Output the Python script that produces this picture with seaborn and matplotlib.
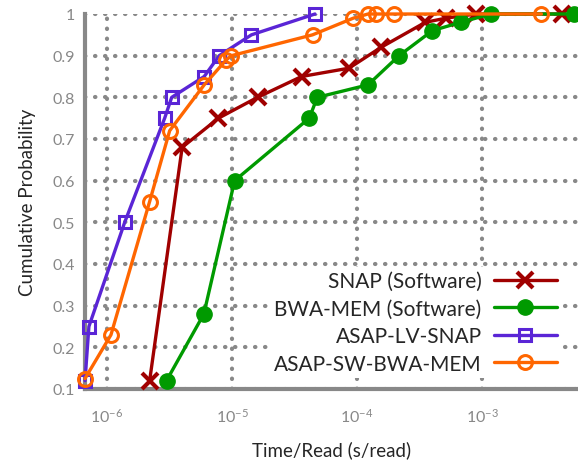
import numpy as np
import pandas as pd
import matplotlib
matplotlib.use("Agg")
import matplotlib.pyplot as plt
import seaborn as sns

# time per read (s/read) and cumulative probability
snap_t = [2.2e-6, 4.0e-6, 7.8e-6, 1.6e-5, 3.6e-5, 8.6e-5, 1.55e-4, 3.5e-4, 5.1e-4, 8.9e-4, 4.3e-3]
snap_p = [0.12, 0.68, 0.75, 0.80, 0.85, 0.87, 0.92, 0.98, 0.99, 1.0, 1.0]

bwa_t = [3.0e-6, 5.96e-6, 1.05e-5, 4.14e-5, 4.8e-5, 1.22e-4, 2.16e-4, 3.98e-4, 6.7e-4, 1.17e-3, 5.35e-3]
bwa_p = [0.12, 0.28, 0.60, 0.75, 0.80, 0.83, 0.90, 0.96, 0.98, 1.0, 1.0]

lv_t = [6.7e-7, 7.2e-7, 1.39e-6, 2.9e-6, 3.3e-6, 6.0e-6, 7.9e-6, 1.43e-5, 4.6e-5]
lv_p = [0.12, 0.25, 0.50, 0.75, 0.80, 0.85, 0.90, 0.95, 1.0]

sw_t = [6.7e-7, 1.08e-6, 2.2e-6, 3.18e-6, 6.0e-6, 9.0e-6, 9.9e-6, 4.4e-5, 9.3e-5, 1.22e-4, 1.41e-4, 1.97e-4, 2.96e-3]
sw_p = [0.125, 0.23, 0.55, 0.72, 0.83, 0.89, 0.90, 0.95, 0.99, 1.0, 1.0, 1.0, 1.0]

labels = ["SNAP (Software)", "BWA-MEM (Software)", "ASAP-LV-SNAP", "ASAP-SW-BWA-MEM"]
colors = ["#a00000", "#009a00", "#5a25d6", "#ff6600"]

sns.set_style("white")
plt.rcParams['font.family'] = ['Lato', 'DejaVu Sans']

fig = plt.figure(figsize=(5.78, 4.64), dpi=100)
ax = fig.add_axes([85/578, 74/464, 493/578, 375/464])

series = [(snap_t, snap_p), (bwa_t, bwa_p), (lv_t, lv_p), (sw_t, sw_p)]
styles = [
    dict(marker="x", markersize=11, mew=3, mec=colors[0]),
    dict(marker="o", markersize=11, mew=1, mec=colors[1], markerfacecolor=colors[1]),
    dict(marker="s", markersize=9, mew=2.2, mec=colors[2], markerfacecolor="none"),
    dict(marker="o", markersize=10, mew=2.2, mec=colors[3], markerfacecolor="none"),
]

for (t, p), lab, col, st in zip(series, labels, colors, styles):
    df = pd.DataFrame({"t": t, "p": p})
    sns.lineplot(data=df, x="t", y="p", ax=ax, color=col, label=lab, lw=2.4,
                 sort=False, estimator=None, clip_on=False, zorder=3, **st)

ax.set_xscale("log")
ax.set_xlim(6.7e-7, 5.8e-3)
ax.set_ylim(0.1, 1.0)
ax.set_yticks(np.arange(0.1, 1.01, 0.1))
ax.set_yticklabels(["0.1", "0.2", "0.3", "0.4", "0.5", "0.6", "0.7", "0.8", "0.9", "1"])

grey = "#888888"
ax.grid(True, which="major", color=grey, linestyle=(0, (0.1, 2.3)), lw=3,
        dash_capstyle="round")
ax.set_axisbelow(True)
for s in ["top", "right"]:
    ax.spines[s].set_visible(False)
for s in ["left", "bottom"]:
    ax.spines[s].set_color(grey)
    ax.spines[s].set_linewidth(3)

ax.tick_params(axis="both", which="major", direction="in", color=grey, width=2.2,
               length=8, labelcolor=grey, labelsize=11.5)
ax.tick_params(axis="x", which="minor", direction="in", color=grey, width=1.6, length=4.5)
ax.tick_params(axis="x", pad=13)
ax.tick_params(axis="y", pad=7)

ax.set_xlabel("Time/Read (s/read)", fontsize=13.5, labelpad=11)
ax.set_ylabel("Cumulative Probability", fontsize=13.5, labelpad=12)

leg = ax.legend(loc="lower right", bbox_to_anchor=(0.965, 0.03), frameon=True,
                markerfirst=False, fontsize=15, handlelength=3.0, labelspacing=0.36,
                handletextpad=0.6, borderaxespad=0, borderpad=0.2)
leg.get_frame().set_facecolor("white")
leg.get_frame().set_edgecolor("none")
leg.get_frame().set_alpha(1)
leg.get_frame().set_boxstyle("square", pad=0)
for t in leg.get_texts():
    t.set_ha("right")

fig.savefig("out.png", dpi=100)
